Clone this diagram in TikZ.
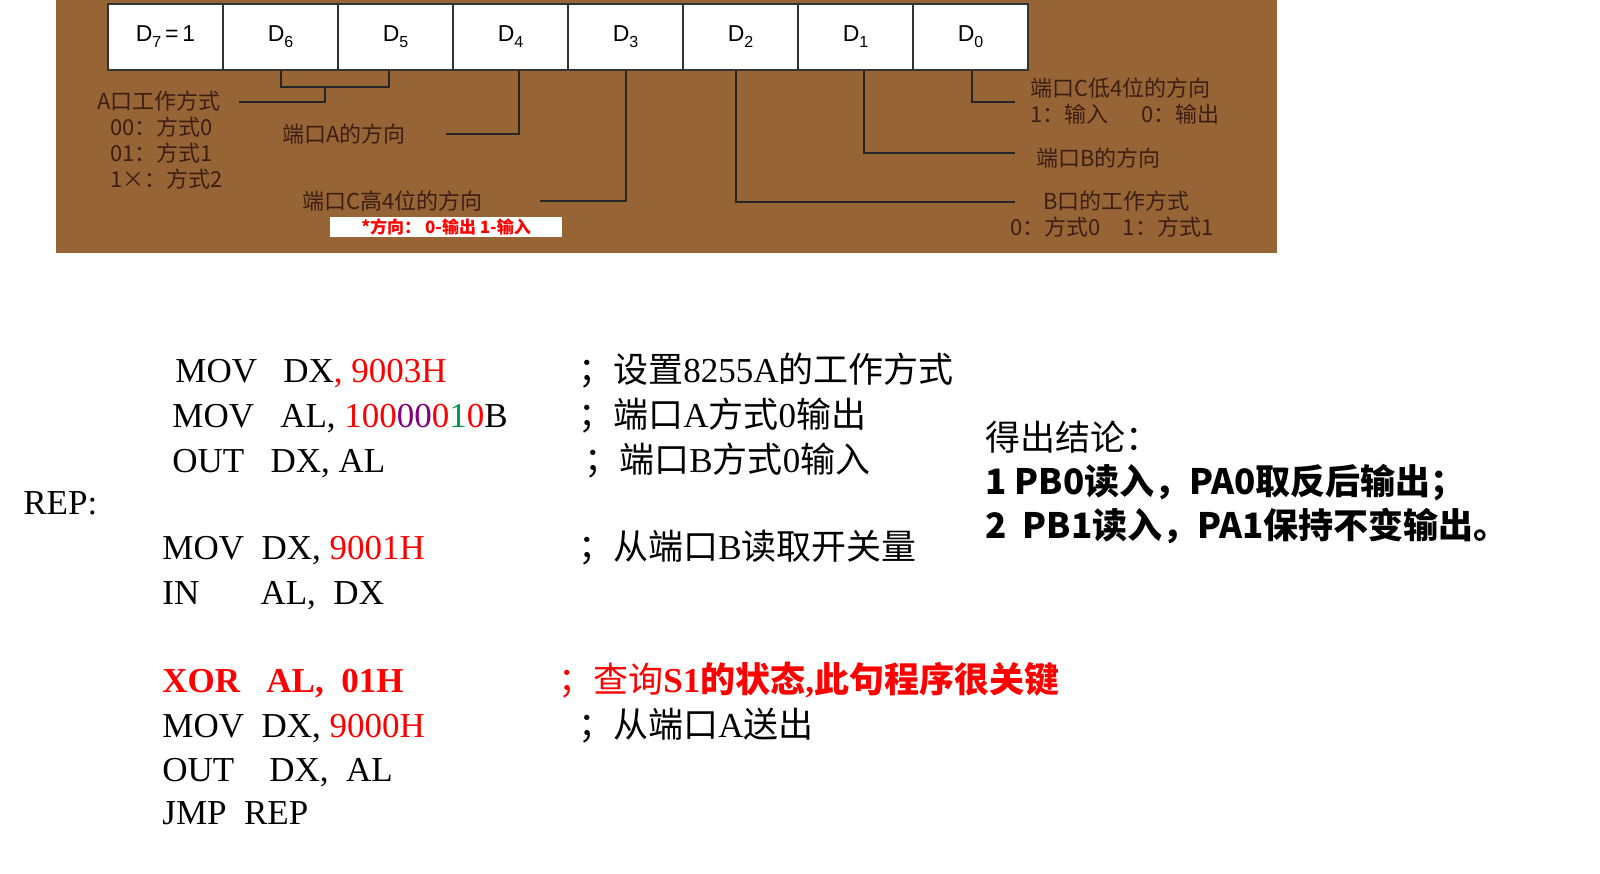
\documentclass[tikz,border=0pt]{standalone}
\usepackage{fontspec}
\setmainfont{Liberation Serif}
\newfontfamily\cjk{Noto Sans CJK SC}
\newfontfamily\arl{Liberation Sans}
\newcommand{\dsub}[1]{D\raisebox{-3pt}{\fontsize{8}{9}\selectfont #1}}
\begin{document}
\begin{tikzpicture}[x=0.5pt,y=-0.5pt,
  cell/.style={draw=black!80,fill=white,minimum width=57.5pt,minimum height=33pt,inner sep=0,font=\arl\fontsize{11.5}{12}\selectfont,line width=0.6pt},
  lab/.style={text={rgb,255:red,60;green,30;blue,20},font=\cjk\fontsize{11}{13}\selectfont,inner sep=0,align=left},
  ln/.style={draw=black!85,line width=0.7pt},
  code/.style={anchor=base west,inner sep=0,font=\fontsize{17.5}{20}\selectfont},
  cmt/.style={anchor=base west,inner sep=0,font=\fontsize{17.5}{20}\selectfont}]
\useasboundingbox (0,0) rectangle (1600,873);
\fill[fill={rgb,255:red,151;green,101;blue,53}] (56,0) rectangle (1277,253);
\foreach \i/\t in {0/{\dsub{7}\,=\,1},1/\dsub{6},2/\dsub{5},3/\dsub{4},4/\dsub{3},5/\dsub{2},6/\dsub{1},7/\dsub{0}}
  \node[cell] (c\i) at ({165.5+115*\i},37) {\t};
\node[lab,anchor=north] (am) at (160,90) {A口工作方式\\[0pt]\hspace*{0.6em}00：方式0\\[0pt]\hspace*{0.6em}01：方式1\\[0pt]\hspace*{0.6em}1×：方式2};
\coordinate (j1) at (281,87); \coordinate (j2) at (389,87); \coordinate (j3) at (325,102);
\draw[ln] (c1.south -| j1) -- (j1) -- (j2) -- (c2.south -| j2);
\draw[ln] (325,87) -- (j3) -- (239,102);
\node[lab,anchor=west] (pa) at (282,134) {端口A的方向};
\draw[ln] (446,134) -- (519,134) -- (c3.south -| 519,0);
\node[lab,anchor=west] (pc) at (302,201) {端口C高4位的方向};
\draw[ln] (540,201) -- (626,201) -- (c4.south -| 626,0);
\node[fill=white,inner sep=1pt,text=red,font=\cjk\bfseries\fontsize{8.5}{9}\selectfont,minimum width=116pt] (nt) at (446,227) {*方向：\ 0-输出\ 1-输入};
\draw[ln] (c5.south -| 736,0) -- (736,202) -- (1015,202);
\draw[ln] (c6.south -| 864,0) -- (864,153) -- (1015,153);
\draw[ln] (c7.south -| 972,0) -- (972,102) -- (1015,102);
\node[lab,anchor=west] (cl) at (1030,101) {端口C低4位的方向\\[0pt]1：输入\hspace{1.5em}0：输出};
\node[lab,anchor=west] (pb) at (1036,158) {端口B的方向};
\node[lab,anchor=west] (bm) at (1010,214) {\hspace*{1.5em}B口的工作方式\\[0pt]0：方式0\hspace{1em}1：方式1};
\node[code] (l1) at (175,382) {MOV\ \ \ DX\textcolor{red}{, 9003H}};
\node[cmt] (m1) at (578,382) {\cjk ；设置\rmfamily 8255A\cjk 的工作方式};
\node[code] (l2) at (172,427) {MOV\ \ \ AL, \textcolor{red}{100}\textcolor{violet}{00}\textcolor{red}{0}\textcolor[rgb]{0,0.6,0.3}{1}\textcolor{red}{0}B};
\node[cmt] (m2) at (578,427) {\cjk ；端口\rmfamily A\cjk 方式\rmfamily 0\cjk 输出};
\node[code] (l3) at (172,472) {OUT\ \ \ DX, AL};
\node[cmt] (m3) at (584,472) {\cjk ；端口\rmfamily B\cjk 方式\rmfamily 0\cjk 输入};
\node[code] (rp) at (23,514) {REP:};
\node[code] (l4) at (162,559) {MOV\ \ DX, \textcolor{red}{9001H}};
\node[cmt] (m4) at (578,559) {\cjk ；从端口\rmfamily B\cjk 读取开关量};
\node[code] (l5) at (162,604) {IN\ \ \ \ \ \ \ AL,\ \ DX};
\node[code,text=red,font=\bfseries\fontsize{17.5}{20}\selectfont] (l6) at (162,692) {XOR\ \ \ AL,\ \ 01H};
\node[cmt,text=red] (m6) at (558,692) {\cjk ；查询\rmfamily\bfseries S1\cjk 的状态\rmfamily\bfseries ,\cjk 此句程序很关键};
\node[code] (l7) at (162,737) {MOV\ \ DX, \textcolor{red}{9000H}};
\node[cmt] (m7) at (578,737) {\cjk ；从端口\rmfamily A\cjk 送出};
\node[code] (l8) at (162,781) {OUT\ \ \ \ DX,\ \ AL};
\node[code] (l9) at (162,824) {JMP\ \ REP};
\node[cmt] (r1) at (985,450) {\cjk 得出结论：};
\node[cmt,font=\cjk\bfseries\fontsize{17.5}{20}\selectfont] (r2) at (985,494) {1 PB0读入，PA0取反后输出；};
\node[cmt,font=\cjk\bfseries\fontsize{17.5}{20}\selectfont] (r3) at (985,538) {2\ \ PB1读入，PA1保持不变输出。};
\end{tikzpicture}
\end{document}
